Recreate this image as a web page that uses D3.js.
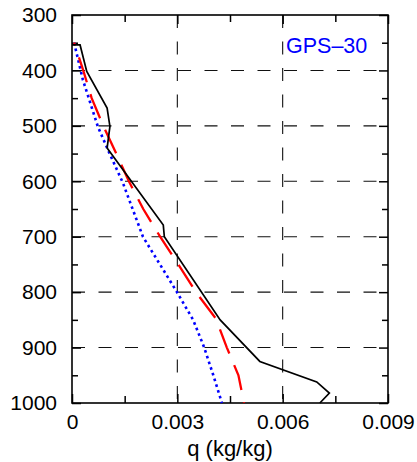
<!DOCTYPE html>
<html>
<head>
<meta charset="utf-8">
<script src="https://cdn.jsdelivr.net/npm/d3@7"></script>
<style>
  body { margin: 0; background: #fff; }
  svg { display: block; font-family: "Liberation Sans", Arial, sans-serif; }
  .tick text { font-size: 21px; fill: #000; }
</style>
</head>
<body>
<script>
// pressure levels (hPa) and q (kg/kg)
var solidP  = [354, 354, 402, 468, 501, 540, 679, 700, 850, 925, 962, 982, 1000];
var solidQ  = [0, 0.00023, 0.00042, 0.00100, 0.00108, 0.00100, 0.00260, 0.00263, 0.00422, 0.00535, 0.00697, 0.00733, 0.00706];

var dashedP = [350, 400, 450, 500, 550, 600, 650, 700, 750, 800, 848, 900, 950, 1000];
var dashedQ = [0.00006, 0.00032, 0.00056, 0.00089, 0.00126, 0.00162, 0.00203, 0.00251, 0.00303, 0.00353, 0.00410, 0.00441, 0.00474, 0.00490];

var dottedP = [350, 417, 502, 547, 603, 700, 800, 850, 899, 949, 1000];
var dottedQ = [0.00006, 0.00031, 0.00074, 0.00105, 0.00145, 0.00202, 0.00299, 0.00345, 0.00376, 0.00402, 0.00427];

var pTicks = [300, 400, 500, 600, 700, 800, 900, 1000];
var pMinor = [350, 450, 550, 650, 750, 850, 950];
var qTicks = [0, 0.003, 0.006, 0.009];
var qMinor = [0.0015, 0.0045, 0.0075];
var pGrid = [400, 500, 600, 700, 800, 900];
var qGrid = [0.003, 0.006];

var W = 417, H = 462;
var plotL = 72, plotR = 388, plotT = 15, plotB = 403;

var svg = d3.select('body').append('svg').attr('width', W).attr('height', H);

var x = d3.scaleLinear().domain([0, 0.009]).range([plotL, plotR]);
var y = d3.scaleLinear().domain([300, 1000]).range([plotT, plotB]);

// dashed grid
var grid = svg.append('g').attr('stroke', '#111').attr('stroke-width', 1.1).attr('stroke-dasharray', '13,13.5');
grid.selectAll('.hg').data(pGrid).enter().append('line')
  .attr('x1', plotL).attr('x2', plotR)
  .attr('y1', function (d) { return y(d); }).attr('y2', function (d) { return y(d); });
grid.selectAll('.vg').data(qGrid).enter().append('line')
  .attr('y1', plotT).attr('y2', plotB)
  .attr('x1', function (d) { return x(d); }).attr('x2', function (d) { return x(d); });

// axes: major ticks with labels, minor ticks without
var fmtQ = function (d) { return d === 0 ? '0' : d3.format('.3f')(d); };
var fmtP = d3.format('d');

function addAxis(axis, tx, ty) {
  var g = svg.append('g').attr('transform', 'translate(' + tx + ',' + ty + ')').call(axis);
  g.attr('font-size', null).attr('font-family', null);
  g.select('.domain').remove();
  g.selectAll('.tick line').attr('stroke', '#000').attr('stroke-width', 1.5);
  return g;
}

addAxis(d3.axisLeft(y).tickValues(pTicks).tickSizeInner(-9).tickSizeOuter(0).tickPadding(15).tickFormat(fmtP), plotL, 0);
addAxis(d3.axisLeft(y).tickValues(pMinor).tickSizeInner(-6).tickSizeOuter(0).tickFormat(''), plotL, 0);
addAxis(d3.axisRight(y).tickValues(pTicks).tickSizeInner(-9).tickSizeOuter(0).tickFormat(''), plotR, 0);
addAxis(d3.axisRight(y).tickValues(pMinor).tickSizeInner(-6).tickSizeOuter(0).tickFormat(''), plotR, 0);
addAxis(d3.axisBottom(x).tickValues(qTicks).tickSizeInner(-9).tickSizeOuter(0).tickPadding(11).tickFormat(fmtQ), 0, plotB);
addAxis(d3.axisBottom(x).tickValues(qMinor).tickSizeInner(-7).tickSizeOuter(0).tickFormat(''), 0, plotB);
addAxis(d3.axisTop(x).tickValues(qTicks).tickSizeInner(-9).tickSizeOuter(0).tickFormat(''), 0, plotT);
addAxis(d3.axisTop(x).tickValues(qMinor).tickSizeInner(-7).tickSizeOuter(0).tickFormat(''), 0, plotT);

// frame
svg.append('rect').attr('x', plotL).attr('y', plotT)
  .attr('width', plotR - plotL).attr('height', plotB - plotT)
  .attr('fill', 'none').attr('stroke', '#000').attr('stroke-width', 1.6);

// profiles
var line = d3.line().x(function (d) { return x(d[0]); }).y(function (d) { return y(d[1]); });

svg.append('path').datum(d3.zip(dottedQ, dottedP)).attr('d', line)
  .attr('fill', 'none').attr('stroke', '#0000ff').attr('stroke-width', 2.6)
  .attr('stroke-dasharray', '2.6,3.4');

svg.append('path').datum(d3.zip(dashedQ, dashedP)).attr('d', line)
  .attr('fill', 'none').attr('stroke', '#ff0000').attr('stroke-width', 2.3)
  .attr('stroke-dasharray', '26,12.5').attr('stroke-dashoffset', 23);

svg.append('path').datum(d3.zip(solidQ, solidP)).attr('d', line)
  .attr('fill', 'none').attr('stroke', '#000').attr('stroke-width', 1.7)
  .attr('stroke-linejoin', 'miter');

// labels
svg.append('text').attr('x', 286).attr('y', 52.5)
  .attr('font-size', 21.5).attr('fill', '#0000ff').text('GPS\u201330');

svg.append('text').attr('x', (plotL + plotR) / 2).attr('y', 456)
  .attr('text-anchor', 'middle').attr('font-size', 22).text('q (kg/kg)');
</script>
</body>
</html>
